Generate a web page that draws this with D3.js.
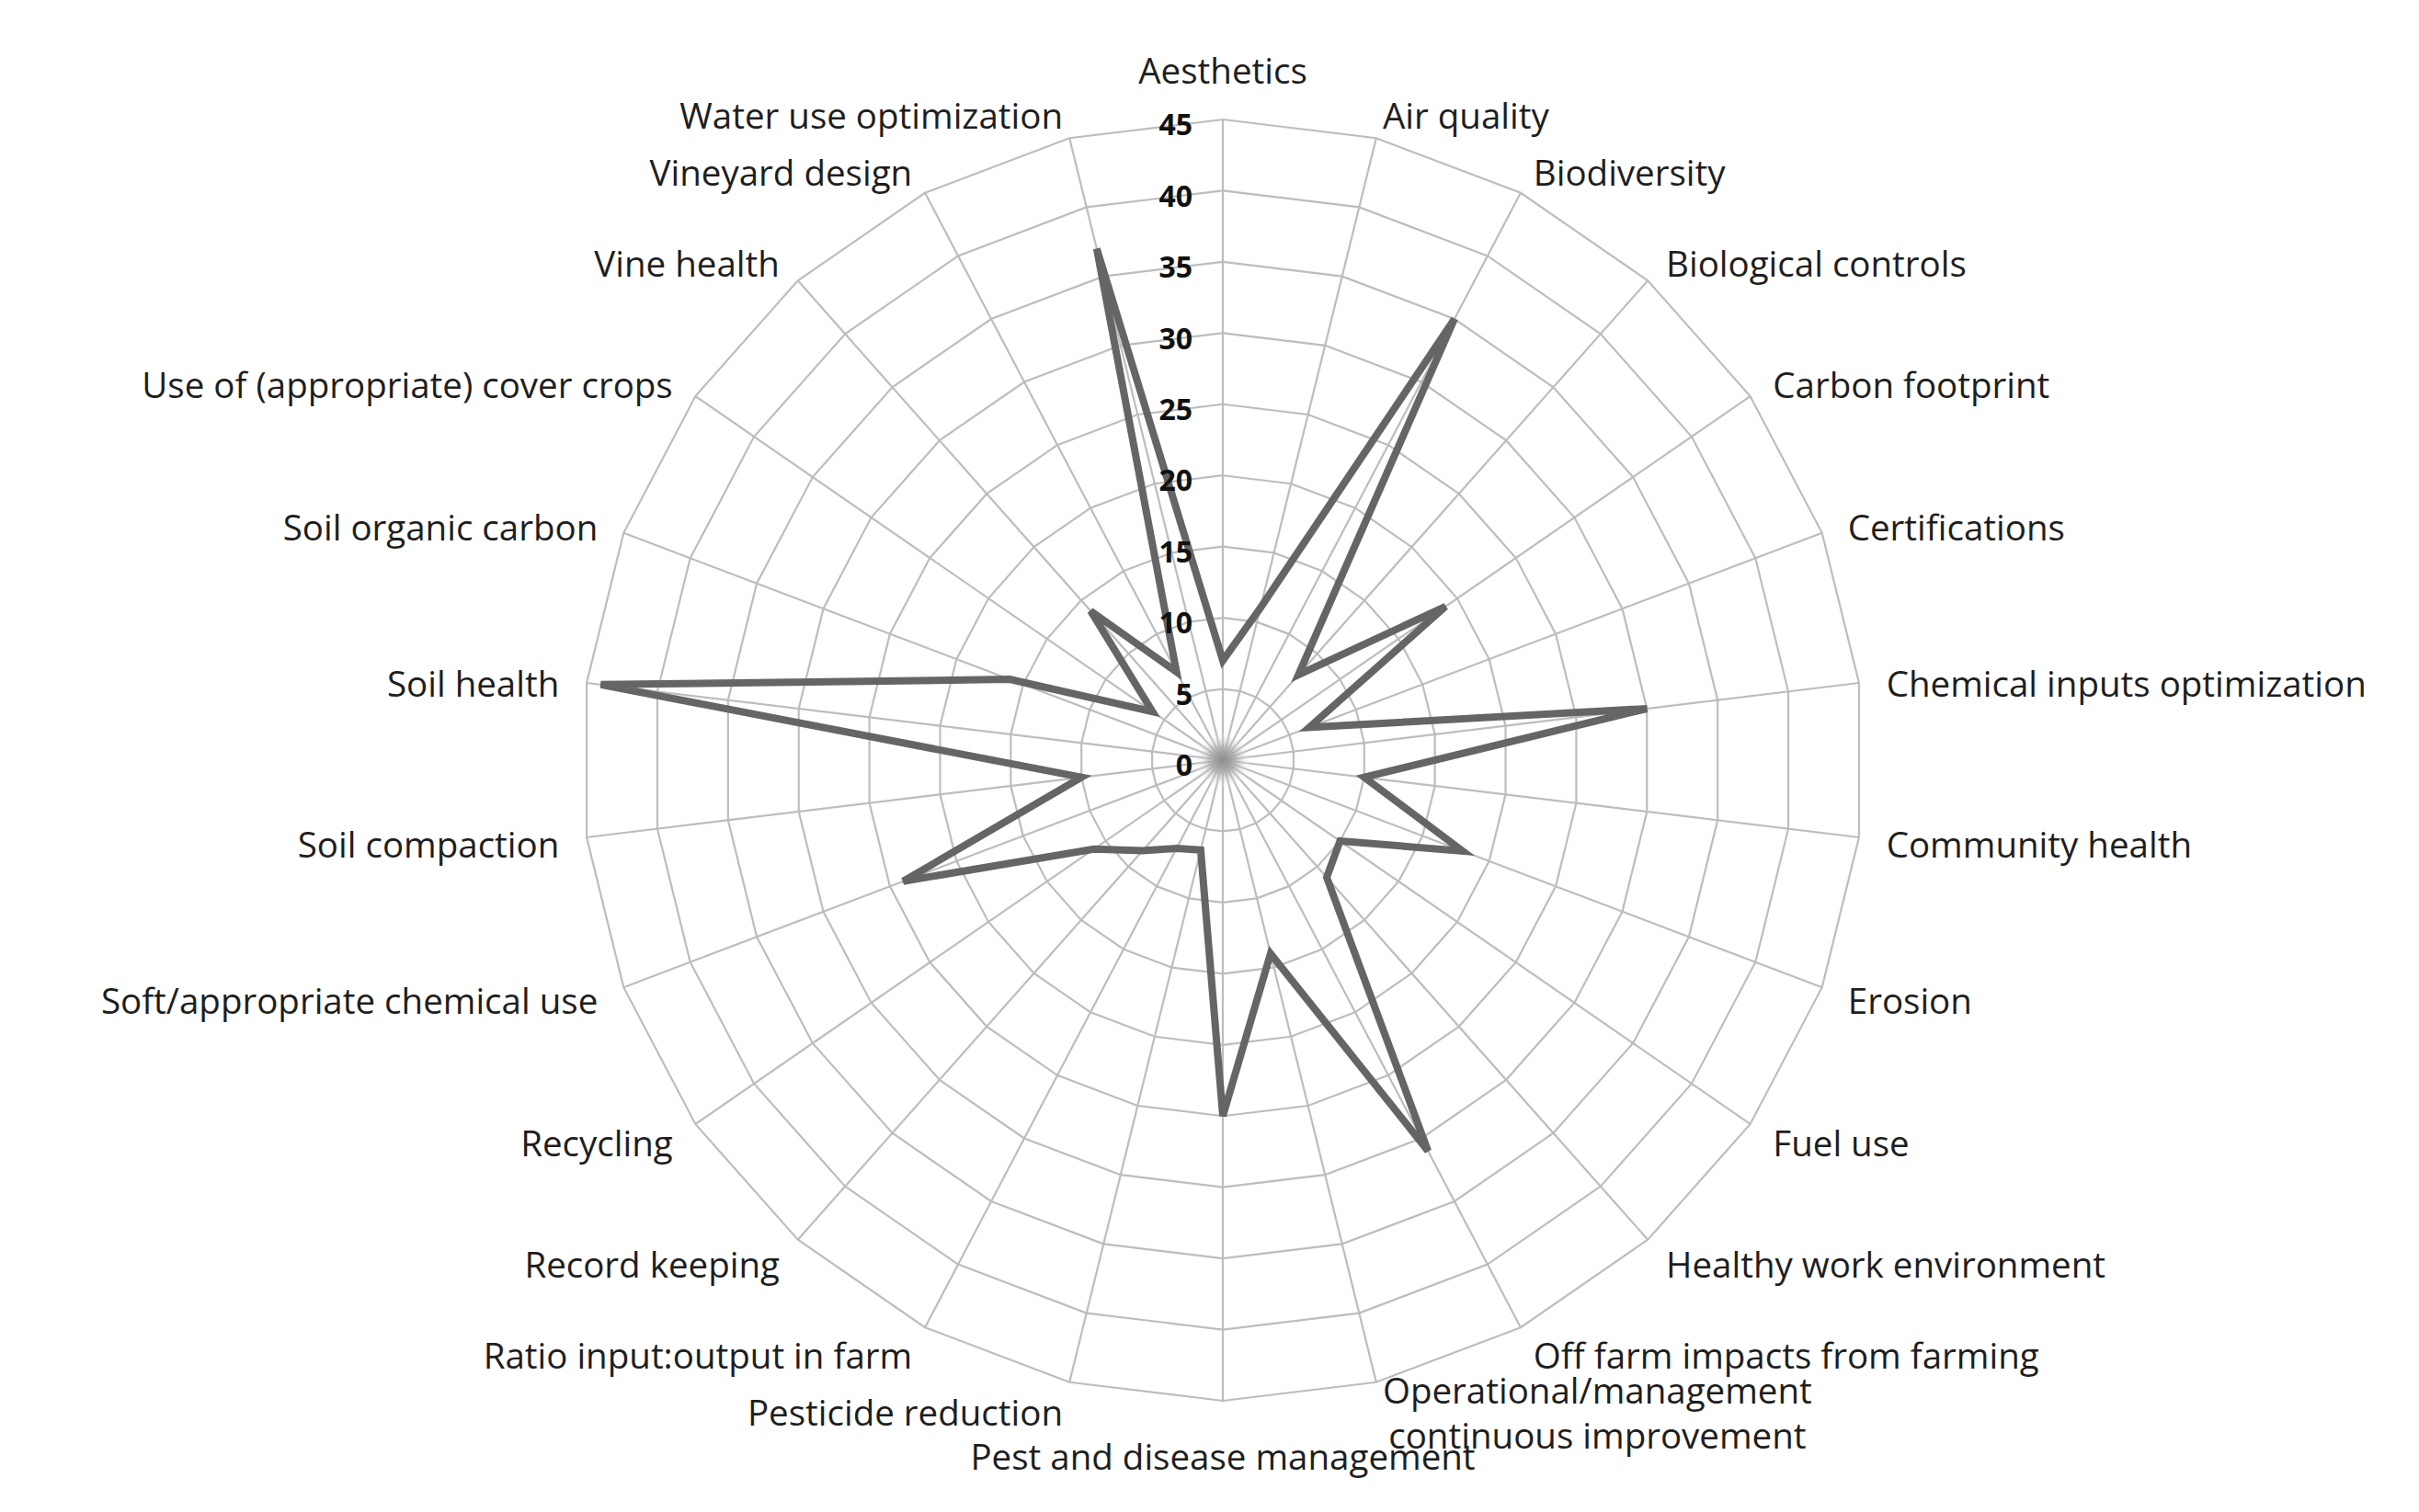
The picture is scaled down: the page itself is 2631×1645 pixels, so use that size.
<!DOCTYPE html>
<html>
<head>
<meta charset="utf-8">
<script src="https://cdn.jsdelivr.net/npm/d3@7"></script>
<style>
body { margin: 0; background: #fff; }
text { font-family: "Open Sans", sans-serif; }
</style>
</head>
<body>
<svg id="chart" width="2631" height="1645"></svg>
<script>
var categories = [
	"Aesthetics", "Air quality", "Biodiversity", "Biological controls", "Carbon footprint",
	"Certifications", "Chemical inputs optimization", "Community health", "Erosion", "Fuel use",
	"Healthy work environment", "Off farm impacts from farming",
	"Operational/management\ncontinuous improvement", "Pest and disease management",
	"Pesticide reduction", "Ratio input:output in farm", "Record keeping", "Recycling",
	"Soft/appropriate chemical use", "Soil compaction", "Soil health", "Soil organic carbon",
	"Use of (appropriate) cover crops", "Vine health", "Vineyard design", "Water use optimization"
];
var values = [7, 11, 35, 8, 19, 6.5, 30, 10, 18, 10, 11, 31, 14, 25, 6.5, 7, 8.5, 11, 24, 10, 44, 16, 6, 14, 7, 37];
var ticks = [0, 5, 10, 15, 20, 25, 30, 35, 40, 45];

var cx = 1330, cy = 827, R = 697;
var gap = 30;

var svg = d3.select('#chart');
var r = d3.scaleLinear().domain([0, 45]).range([0, R]);
var angle = d3.scaleLinear().domain([0, categories.length]).range([0, 2 * Math.PI]);

var defs = svg.append('defs');
var grad = defs.append('radialGradient').attr('id', 'blob');
grad.append('stop').attr('offset', '0%').attr('stop-color', '#8c8c8c').attr('stop-opacity', 1);
grad.append('stop').attr('offset', '45%').attr('stop-color', '#a8a8a8').attr('stop-opacity', 0.7);
grad.append('stop').attr('offset', '100%').attr('stop-color', '#ffffff').attr('stop-opacity', 0);

var g = svg.append('g').attr('transform', 'translate(' + cx + ',' + cy + ')');

// grid rings
var ring = d3.lineRadial()
	.angle(function(d, i) { return angle(i); })
	.curve(d3.curveLinearClosed);
g.append('g').selectAll('path')
	.data(ticks.filter(function(t) { return t > 0; }))
	.enter().append('path')
	.attr('d', function(t) { return ring.radius(r(t))(categories); })
	.style('fill', 'none')
	.style('stroke', '#bdbdbd')
	.style('stroke-width', 2.2);

// spokes
g.append('g').selectAll('line')
	.data(categories)
	.enter().append('line')
	.attr('x1', 0).attr('y1', 0)
	.attr('x2', function(d, i) { return r(45) * Math.sin(angle(i)); })
	.attr('y2', function(d, i) { return -r(45) * Math.cos(angle(i)); })
	.style('stroke', '#bdbdbd')
	.style('stroke-width', 2.2);

// series
var line = d3.lineRadial()
	.angle(function(d, i) { return angle(i); })
	.radius(function(d) { return r(d); })
	.curve(d3.curveLinearClosed);
g.append('path')
	.attr('d', line(values))
	.style('fill', 'none')
	.style('stroke', '#656565')
	.style('stroke-width', 8);

g.append('circle')
	.attr('r', 32)
	.style('fill', 'url(#blob)');

// value axis labels
g.append('g').selectAll('text')
	.data(ticks)
	.enter().append('text')
	.attr('x', -33)
	.attr('y', function(t) { return -r(t) + 6; })
	.attr('dy', '0.35em')
	.attr('text-anchor', 'end')
	.style('font-size', '32px')
	.style('font-weight', 'bold')
	.style('fill', '#111')
	.text(function(t) { return t; });

// category labels
var labels = g.append('g');
categories.forEach(function(name, i) {
	var a = angle(i);
	var s = Math.sin(a), c = Math.cos(a);
	var x = (R + gap) * s;
	var y = -(R + gap) * c + 5;
	var anchor = 'middle';
	if (Math.abs(s) < 0.01) y -= c * 27;
	else anchor = s > 0 ? 'start' : 'end';

	var lines = name.split('\n');
	var lh = 49;
	var text = labels.append('text')
		.attr('text-anchor', lines.length > 1 ? 'middle' : anchor)
		.style('font-size', '38.5px')
		.style('fill', '#1e1e1e');
	lines.forEach(function(l, k) {
		text.append('tspan')
			.attr('x', 0)
			.attr('y', y - (lines.length - 1) * lh / 2 + k * lh)
			.attr('dy', '0.35em')
			.text(l);
	});
	if (lines.length > 1) {
		var w = 0;
		text.selectAll('tspan').each(function() { w = Math.max(w, this.getComputedTextLength()); });
		var mid = anchor == 'start' ? x + w / 2 : (anchor == 'end' ? x - w / 2 : x);
		text.selectAll('tspan').attr('x', mid);
	} else {
		text.selectAll('tspan').attr('x', x);
	}
});
</script>
</body>
</html>
